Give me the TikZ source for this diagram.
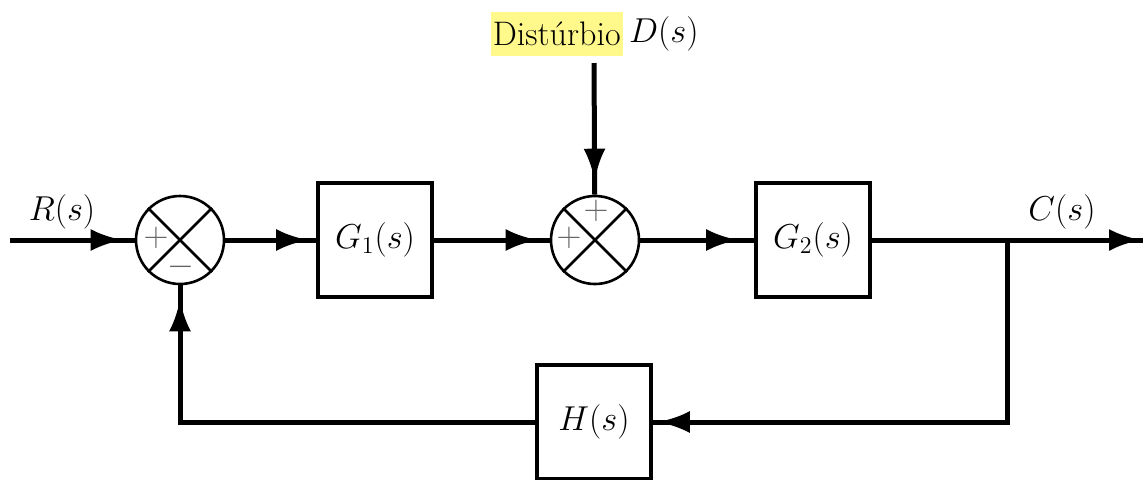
\documentclass[tikz,border=0pt]{standalone}
\usetikzlibrary{arrows.meta,decorations.markings}
\begin{document}
\begin{tikzpicture}[x=0.5pt,y=-0.5pt,
  txt/.style={font=\fontsize{17}{20}\selectfont, inner sep=0pt},
  sgn/.style={font=\fontsize{16}{18}\selectfont, text=black!60, inner sep=0pt},
  blk/.style={draw, line width=1.8pt, minimum width=57pt, minimum height=57pt, inner sep=0pt, font=\fontsize{17}{20}\selectfont},
  sumj/.style={draw, circle, line width=1.3pt, minimum size=44pt, inner sep=0pt},
  flow/.style={line width=2.5pt, postaction={decorate},
    decoration={markings, mark=at position -#1 with {\arrow{Latex[length=16pt,width=11pt]}}}},
  flow/.default=5pt]
\useasboundingbox (0,0) rectangle (1145,479);
% nodes
\node[sumj] (s1) at (180,240) {};
\node[blk] (g1) at (375,240) {$G_1(s)$};
\node[sumj] (s2) at (595,240) {};
\node[blk] (g2) at (813,240) {$G_2(s)$};
\node[blk] (h) at (594,422) {$H(s)$};
\coordinate (in) at (10,240);
\coordinate (out) at (1143,240);
\coordinate (br) at (1007,240);
\coordinate (dtop) at (594,63);
% crosses
\draw[line width=1.3pt] (s1.north west) -- (s1.south east) (s1.north east) -- (s1.south west);
\draw[line width=1.3pt] (s2.north west) -- (s2.south east) (s2.north east) -- (s2.south west);
% signs
\node[sgn] (p1) at (156,238) {$+$};
\node[sgn] (m1) at (181,267) {$-$};
\node[sgn] (p2) at (596,211) {$+$};
\node[sgn] (p3) at (569,238) {$+$};
% labels
\node[txt] (rl) at (62,212) {$R(s)$};
\node[txt] (cl) at (1062,212) {$C(s)$};
\node[txt, fill=yellow!45, inner xsep=1pt, inner ysep=5pt, anchor=east] (dl) at (623,34) {Distúrbio};
\node[txt, anchor=west] (dsl) at (dl.east) {\,$D(s)$};
% connectors
\draw[flow=6pt] (in) -- (s1);
\draw[flow=4pt] (s1) -- (g1);
\draw[flow=6pt] (g1) -- (s2);
\draw[flow=8pt] (s2) -- (g2);
\draw[flow=1pt] (g2) -- (out);
\draw[flow=7pt] (dtop) -- (s2);
\draw[flow=2.5pt] (br) |- (h);
\draw[flow=7pt] (h) -| (s1);
\end{tikzpicture}
\end{document}
